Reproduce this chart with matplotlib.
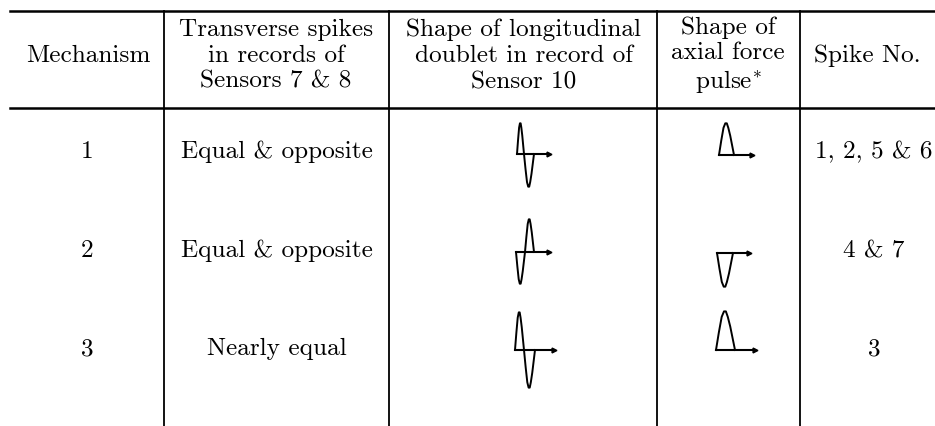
import matplotlib
matplotlib.use('Agg')
import matplotlib.pyplot as plt
import numpy as np

plt.rcParams['mathtext.fontset']='cm'

# table content
headers=['Mechanism',
         'Transverse spikes\nin records of\nSensors 7 & 8',
         'Shape of longitudinal\ndoublet in record of\nSensor 10',
         'Shape of\naxial force\npulse$^{*}$',
         'Spike No.']
mechanisms=['1','2','3']
transverse=['Equal & opposite','Equal & opposite','Nearly equal']
spike_no=['1, 2, 5 & 6','4 & 7','3']

# doublet: sign of first lobe, amplitudes of the two lobes (px)
doublet_sign=[1,-1,1]
doublet_amp=[(31,33),(32,33),(38,38)]
# axial pulse: sign and amplitude (px)
pulse_sign=[1,-1,1]
pulse_amp=[32,34,39]

# lobe outline (fraction of width, fraction of height)
lobe_u=[0.0,0.15,0.3,0.42,0.52,0.62,0.75,1.0]
lobe_v=[0.0,0.45,0.85,0.99,0.99,0.85,0.6,0.0]

# layout (pixels)
W,H=935,426
col_edges=[10,164,389,657,800,935]
row_y=[152,251,349]
top_rule=11
head_rule=108

fig=plt.figure(figsize=(W/100.0,H/100.0),dpi=100)
ax=fig.add_axes([0,0,1,1])
ax.set_xlim(0,W)
ax.set_ylim(H,0)
ax.axis('off')
fig.patch.set_facecolor('white')

font=dict(family='cmr10',size=18.2,color='black')
head_x=[88,276,524,728,867]
body_x=[87,277,524,728,874]

# rules
ax.plot([col_edges[0],W],[top_rule,top_rule],color='black',lw=1.8)
ax.plot([col_edges[0],W],[head_rule,head_rule],color='black',lw=1.8)
for x in col_edges[1:5]:
    ax.plot([x,x],[top_rule,H],color='black',lw=1.3)

# header
for i,h in enumerate(headers):
    ax.text(head_x[i],56,h,ha='center',va='center',linespacing=1.22,**font)

def lobe(x0,x1,y0,amp):
    xs=[x0+u*(x1-x0) for u in lobe_u]
    ys=[y0-v*amp for v in lobe_v]
    return xs,ys

for r in range(3):
    y=row_y[r]
    ax.text(body_x[0],y,mechanisms[r],ha='center',va='center',**font)
    ax.text(body_x[1],y,transverse[r],ha='center',va='center',**font)
    ax.text(body_x[4],y,spike_no[r],ha='center',va='center',**font)

    # longitudinal doublet
    yb=[154,252,350][r]
    x0=[517,516,515][r]
    s=doublet_sign[r]
    a1,a2=doublet_amp[r]
    w1=[7,9,9][r]
    w2=[10,9,11][r]
    xs1,ys1=lobe(x0,x0+w1,yb,s*a1)
    xs2,ys2=lobe(x0+w1,x0+w1+w2,yb,-s*a2)
    ax.plot(xs1+xs2[1:],ys1+ys2[1:],color='black',lw=1.4)
    xend=[549,549,554][r]
    ax.plot([x0,xend],[yb,yb],color='black',lw=1.5)
    ax.plot([xend],[yb],marker='>',ms=3.5,color='black')

    # axial force pulse
    yb=[155,253,350][r]
    px0=[719,717,716][r]
    pw=[15,16,19][r]
    xs,ys=lobe(px0,px0+pw,yb,pulse_sign[r]*pulse_amp[r])
    ax.plot(xs,ys,color='black',lw=1.4)
    xend=[752,749,755][r]
    ax.plot([px0,xend],[yb,yb],color='black',lw=1.5)
    ax.plot([xend],[yb],marker='>',ms=3.5,color='black')

plt.savefig('out.png',dpi=100,facecolor='white')
